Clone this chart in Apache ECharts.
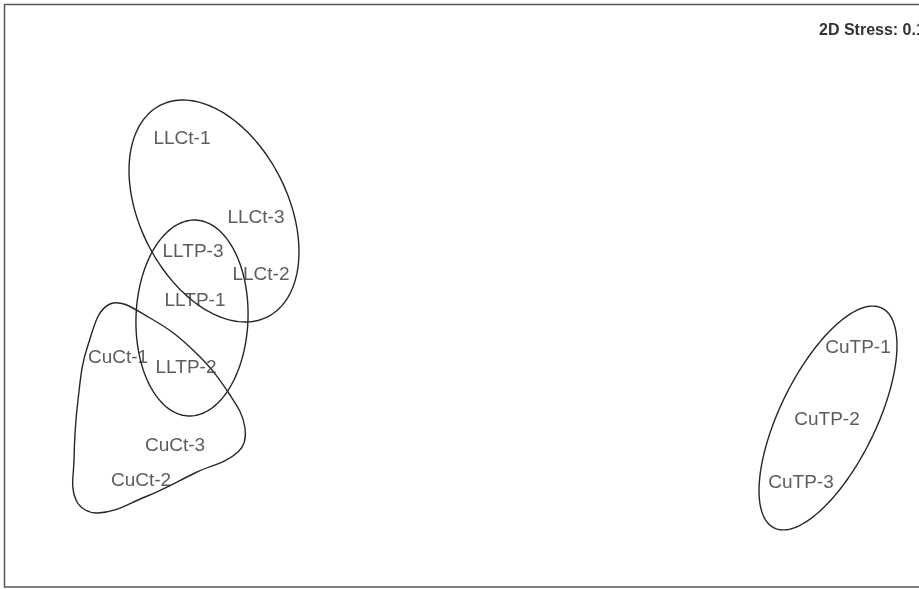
<!DOCTYPE html>
<html>
<head>
<meta charset="utf-8">
<script src="https://cdn.jsdelivr.net/npm/echarts@6/dist/echarts.min.js"></script>
<style>
  html, body { margin: 0; padding: 0; background: #fff; }
  #chart { width: 919px; height: 589px; }
</style>
</head>
<body>
<div id="chart"></div>
<script>
// NMDS sample scores (arbitrary units)
const sampleNames = ['LLCt-1', 'LLCt-3', 'LLTP-3', 'LLCt-2', 'LLTP-1', 'CuCt-1',
  'LLTP-2', 'CuCt-3', 'CuCt-2', 'CuTP-1', 'CuTP-2', 'CuTP-3'];
const mdsX = [-1.41, -1.04, -1.355, -1.015, -1.345, -1.73, -1.39, -1.445, -1.615, 1.97, 1.815, 1.685];
const mdsY = [0.785, 0.39, 0.22, 0.105, -0.025, -0.31, -0.36, -0.75, -0.925, -0.26, -0.62, -0.935];

// group ellipses: centre x, centre y, semi-major, semi-minor, angle (deg)
const ellipseLLCt = [-1.25, 0.425, 0.593, 0.37, 116.8];
const ellipseLLTP = [-1.36, -0.11, 0.49, 0.28, 88];
const ellipseCuTP = [1.82, -0.61, 0.612, 0.24, 63.9];

// CuCt group outline (rounded hull)
const cuCtHullX = [-1.77, -1.57, -1.345, -1.17, -1.095, -1.13, -1.345, -1.595, -1.83, -1.94, -1.95, -1.93, -1.88];
const cuCtHullY = [-0.04, -0.11, -0.28, -0.495, -0.66, -0.78, -0.885, -1.005, -1.085, -1.02, -0.82, -0.52, -0.245];

const stressText = '2D Stress: 0.1';

const chart = echarts.init(document.getElementById('chart'));

const points = sampleNames.map((n, i) => ({ name: n, value: [mdsX[i], mdsY[i]] }));

function renderEllipse(params, api) {
  const cx = api.value(0), cy = api.value(1);
  const a = api.value(2), b = api.value(3);
  const ang = api.value(4) * Math.PI / 180;
  const pts = [];
  for (let k = 0; k < 180; k++) {
    const t = k / 180 * Math.PI * 2;
    const lx = a * Math.cos(t), ly = b * Math.sin(t);
    const dx = lx * Math.cos(ang) - ly * Math.sin(ang);
    const dy = lx * Math.sin(ang) + ly * Math.cos(ang);
    pts.push(api.coord([cx + dx, cy + dy]));
  }
  return {
    type: 'polygon',
    shape: { points: pts },
    style: { fill: 'none', stroke: '#262626', lineWidth: 1.4 }
  };
}

function renderHull(params, api) {
  const pts = cuCtHullX.map((x, i) => api.coord([x, cuCtHullY[i]]));
  return {
    type: 'polygon',
    shape: { points: pts, smooth: 0.4 },
    style: { fill: 'none', stroke: '#262626', lineWidth: 1.4 }
  };
}

const option = {
  animation: false,
  backgroundColor: '#fff',
  grid: {
    left: 4,
    top: 5,
    right: 3,
    bottom: 1,
    show: false
  },
  xAxis: {
    type: 'value',
    min: -2.3,
    max: 2.26,
    show: false
  },
  yAxis: {
    type: 'value',
    min: -1.46,
    max: 1.455,
    show: false
  },
  graphic: [
    {
      // plot frame, right edge runs off the picture
      type: 'rect',
      shape: { x: 4.5, y: 4.5, width: 960, height: 582.5 },
      style: { fill: 'none', stroke: '#555', lineWidth: 1.5 },
      silent: true
    },
    {
      type: 'text',
      left: 819,
      top: 23,
      style: {
        text: stressText,
        font: 'bold 16px "Liberation Sans", Arial, sans-serif',
        fill: '#333'
      }
    }
  ],
  series: [
    {
      type: 'custom',
      renderItem: renderEllipse,
      data: [ellipseLLCt, ellipseLLTP, ellipseCuTP],
      silent: true,
      z: 2
    },
    {
      type: 'custom',
      renderItem: renderHull,
      data: [[0]],
      silent: true,
      z: 2
    },
    {
      type: 'scatter',
      data: points,
      symbolSize: 1,
      itemStyle: { color: 'rgba(0,0,0,0)' },
      label: {
        show: true,
        position: 'inside',
        formatter: '{b}',
        color: '#333',
        fontSize: 19,
        fontFamily: '"Liberation Sans", Arial, sans-serif'
      },
      z: 3
    }
  ]
};

chart.setOption(option);
</script>
</body>
</html>
